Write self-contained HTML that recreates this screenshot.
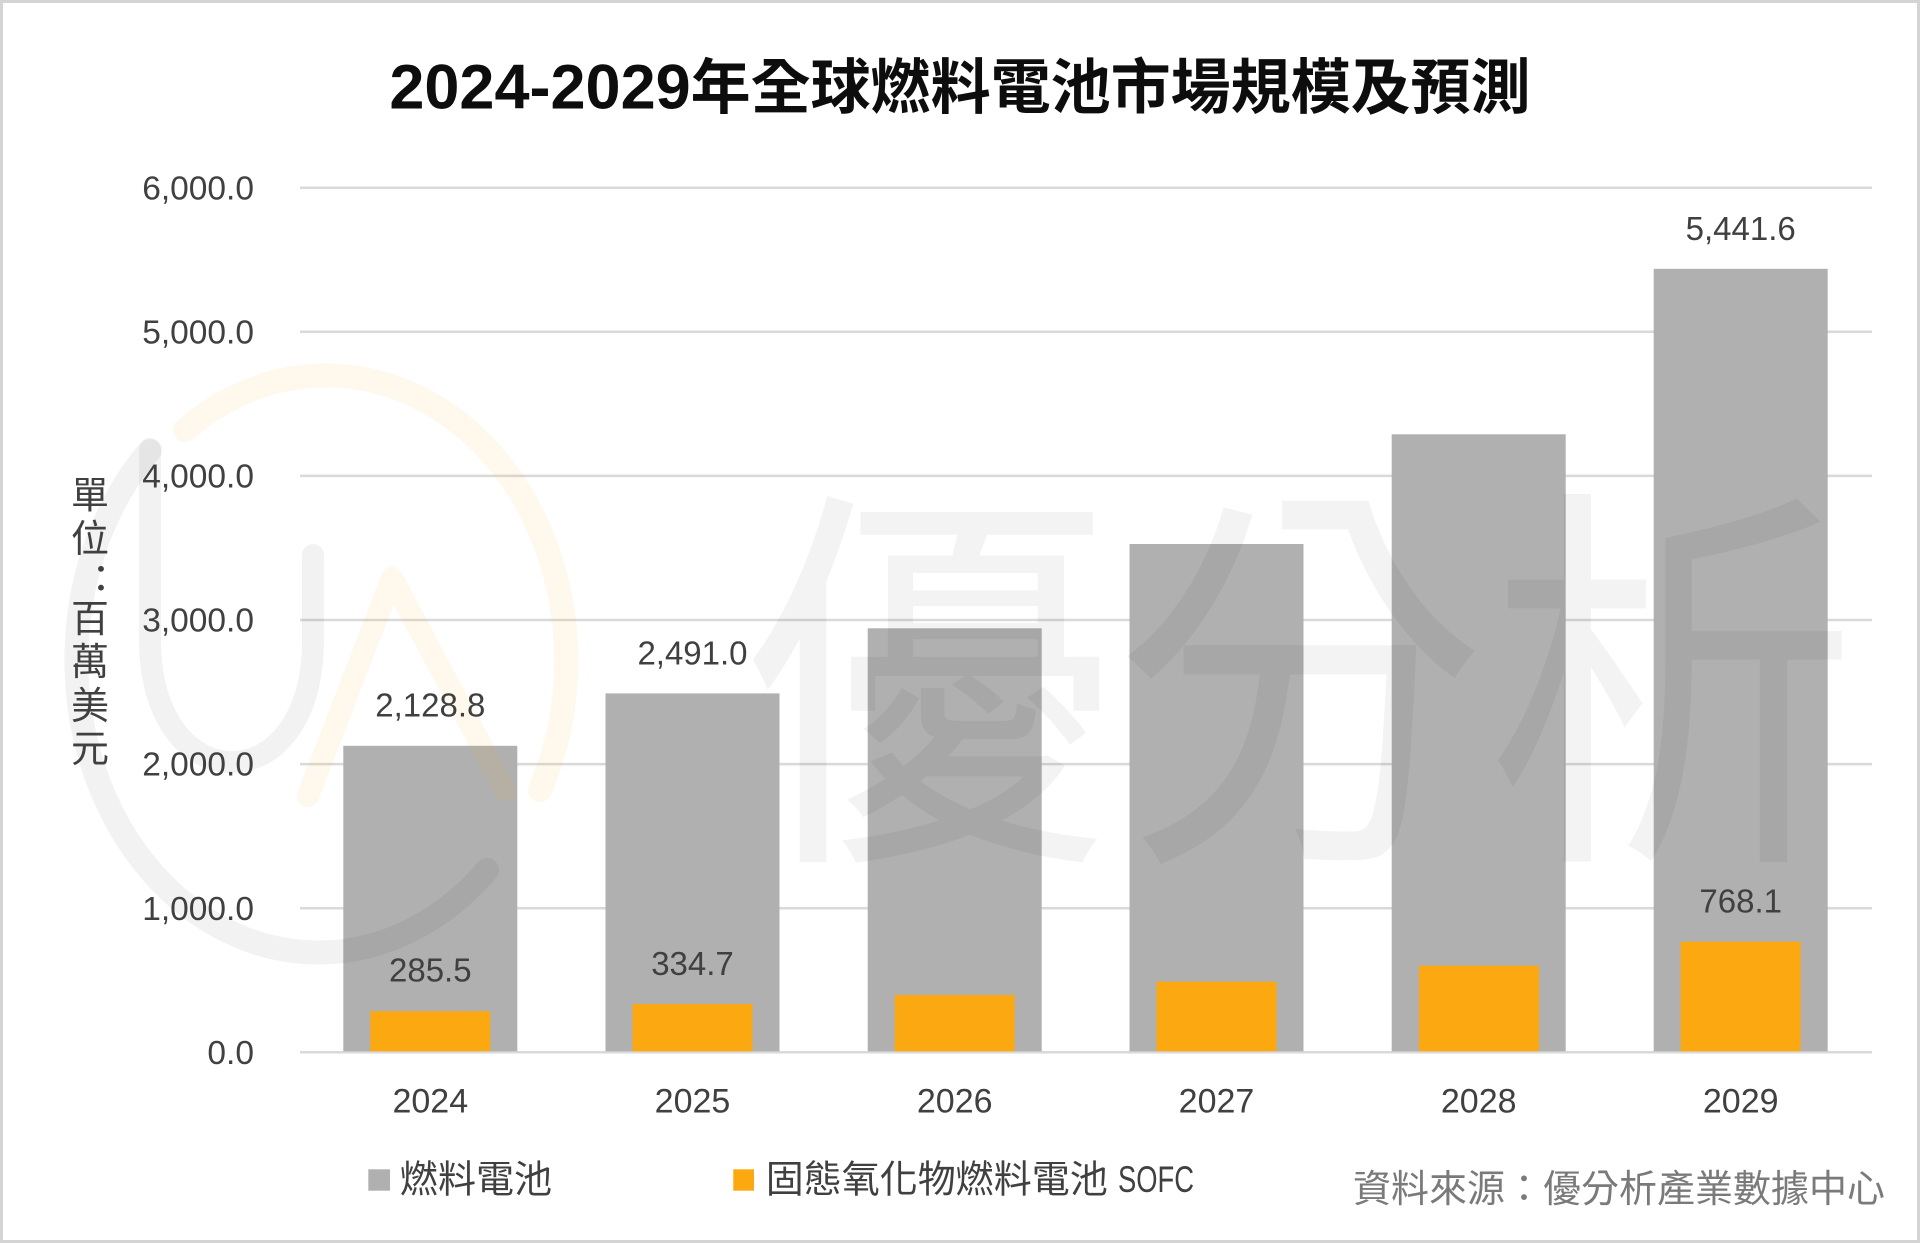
<!DOCTYPE html>
<html>
<head>
<meta charset="utf-8">
<style>
  html,body{margin:0;padding:0;background:#fff;}
  body{width:1920px;height:1243px;overflow:hidden;}
  svg{display:block;}
  text{font-family:"Liberation Sans","Noto Sans CJK TC",sans-serif;}
</style>
</head>
<body>
<svg width="1920" height="1243" viewBox="0 0 1920 1243" xmlns="http://www.w3.org/2000/svg">
  <rect x="0" y="0" width="1920" height="1243" fill="#ffffff"/>
  <rect x="1.5" y="1.5" width="1917" height="1240" fill="none" stroke="#d4d4d4" stroke-width="3"/>

  <!-- Title -->
  <text x="960" y="108.5" text-anchor="middle" font-size="60" font-weight="bold" fill="#0d0d0d"><tspan font-size="63">2024-2029</tspan>年全球燃料電池市場規模及預測</text>

  <!-- Gridlines -->
  <g stroke="#d9d9d9" stroke-width="2.5">
    <line x1="300" y1="187.7" x2="1872" y2="187.7"/>
    <line x1="300" y1="331.8" x2="1872" y2="331.8"/>
    <line x1="300" y1="475.9" x2="1872" y2="475.9"/>
    <line x1="300" y1="620.0" x2="1872" y2="620.0"/>
    <line x1="300" y1="764.1" x2="1872" y2="764.1"/>
    <line x1="300" y1="908.2" x2="1872" y2="908.2"/>
    <line x1="300" y1="1052.3" x2="1872" y2="1052.3"/>
  </g>

  <!-- Gray bars (燃料電池) -->
  <g fill="#b0b0b0">
    <rect x="343.3" y="745.8" width="174" height="305.5"/>
    <rect x="605.5" y="693.4" width="174" height="357.9"/>
    <rect x="867.7" y="628.3" width="174" height="423"/>
    <rect x="1129.5" y="544.0" width="174" height="507.3"/>
    <rect x="1391.7" y="434.3" width="174" height="617"/>
    <rect x="1653.7" y="268.8" width="174" height="782.5"/>
  </g>

  <!-- Orange bars (SOFC) -->
  <g fill="#fca911">
    <rect x="370.3" y="1011.2" width="120" height="40.1"/>
    <rect x="632.5" y="1004.1" width="120" height="47.2"/>
    <rect x="894.7" y="995.0" width="120" height="56.3"/>
    <rect x="1156.5" y="981.7" width="120" height="69.6"/>
    <rect x="1419.0" y="965.7" width="120" height="85.6"/>
    <rect x="1680.7" y="941.7" width="120" height="109.6"/>
  </g>

  <!-- Watermark logo -->
  <g fill="none" stroke-linecap="round">
    <path d="M150 450 A240 290 0 1 0 487 870" stroke="#000" stroke-opacity="0.05" stroke-width="24"/>
    <path d="M185 430 A240 285 0 0 1 540 790" stroke="rgb(245,165,20)" stroke-opacity="0.08" stroke-width="24"/>
    <path d="M150 450 L150 640 C150 720 190 762 232 762 C274 762 313 720 313 640 L313 555" stroke="#000" stroke-opacity="0.05" stroke-width="22"/>
    <path d="M308 796 L392 578 L505 790" stroke="rgb(245,165,20)" stroke-opacity="0.08" stroke-width="22" stroke-linejoin="round"/>
  </g>
  <!-- Watermark text -->
  <text x="0" y="0" font-size="400" fill="#000" fill-opacity="0.048" font-family="'Noto Sans CJK TC','Noto Sans CJK JP',sans-serif" transform="translate(742 830) scale(0.93 1)">優分析</text>

  <!-- Y tick labels -->
  <g font-size="33.5" fill="#404040" text-anchor="end">
    <text x="254" y="199.3">6,000.0</text>
    <text x="254" y="343.4">5,000.0</text>
    <text x="254" y="487.5">4,000.0</text>
    <text x="254" y="631.6">3,000.0</text>
    <text x="254" y="775.7">2,000.0</text>
    <text x="254" y="919.8">1,000.0</text>
    <text x="254" y="1063.9">0.0</text>
  </g>

  <!-- Y axis title -->
  <g font-size="38" fill="#404040" text-anchor="middle">
    <text x="90" y="508.7">單</text>
    <text x="90" y="552">位</text>
    <text x="101" y="592.5">：</text>
    <text x="90" y="632">百</text>
    <text x="90" y="675">萬</text>
    <text x="90" y="719">美</text>
    <text x="90" y="762">元</text>
  </g>

  <!-- Data labels -->
  <g font-size="33" fill="#404040" text-anchor="middle">
    <text x="430.3" y="716.7">2,128.8</text>
    <text x="692.5" y="664.5">2,491.0</text>
    <text x="1740.7" y="240">5,441.6</text>
    <text x="430.3" y="981.7">285.5</text>
    <text x="692.5" y="975">334.7</text>
    <text x="1740.7" y="912.7">768.1</text>
  </g>

  <!-- X labels -->
  <g font-size="34" fill="#404040" text-anchor="middle">
    <text x="430.3" y="1112.5">2024</text>
    <text x="692.5" y="1112.5">2025</text>
    <text x="954.7" y="1112.5">2026</text>
    <text x="1216.5" y="1112.5">2027</text>
    <text x="1478.7" y="1112.5">2028</text>
    <text x="1740.7" y="1112.5">2029</text>
  </g>

  <!-- Legend -->
  <rect x="368.3" y="1169.3" width="21.7" height="21.4" fill="#b0b0b0"/>
  <text x="400" y="1192.5" font-size="38" fill="#404040">燃料電池</text>
  <rect x="733.3" y="1169.3" width="20.7" height="21.4" fill="#fca911"/>
  <text x="765.7" y="1192.5" font-size="38" fill="#404040">固態氧化物燃料電池</text>
  <text x="1118" y="1192" font-size="37" fill="#404040" textLength="76" lengthAdjust="spacingAndGlyphs">SOFC</text>

  <!-- Source -->
  <text x="1353" y="1202" font-size="38" fill="#7a7a7a">資料來源：優分析產業數據中心</text>
</svg>
</body>
</html>
